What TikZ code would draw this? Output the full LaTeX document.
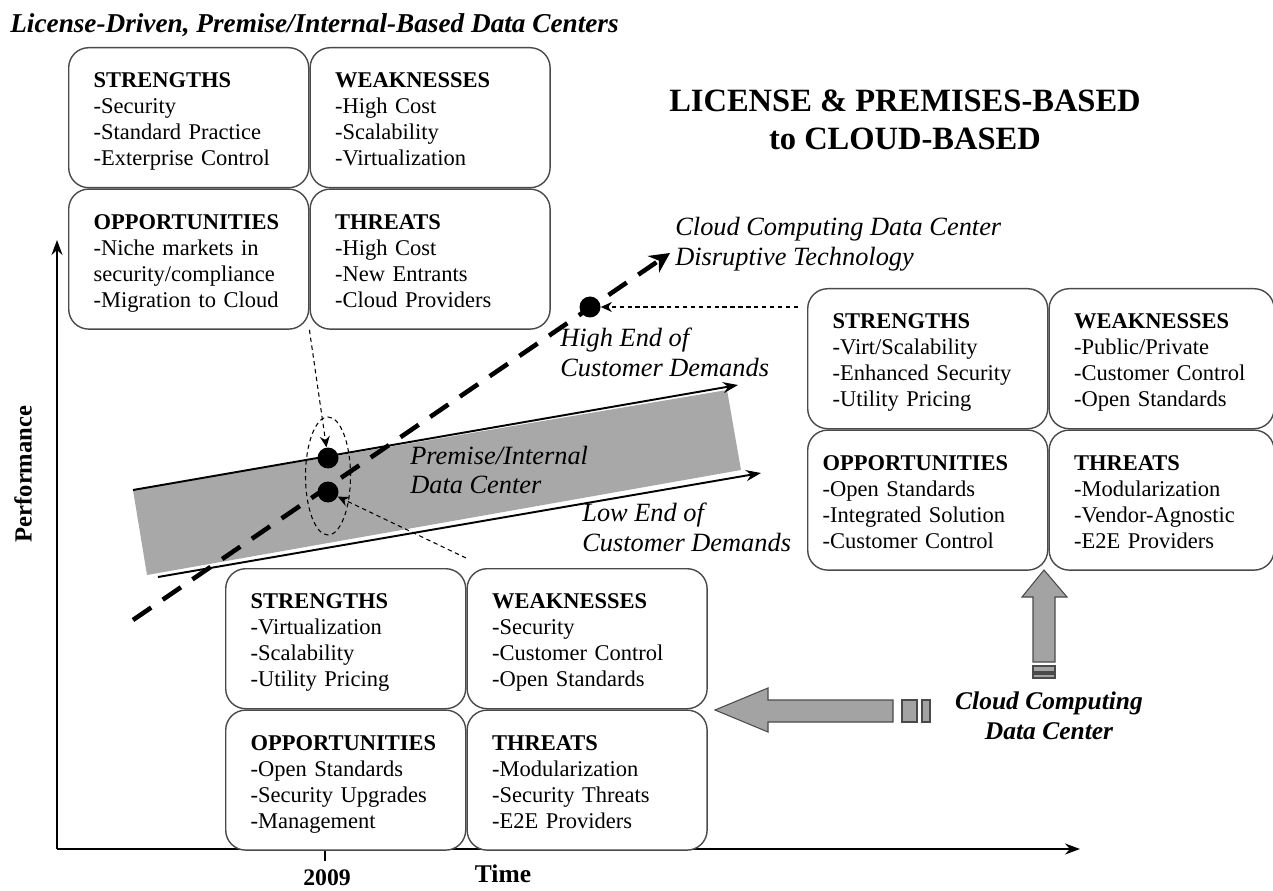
\documentclass[tikz,border=0pt]{standalone}
\usepackage{fontspec}
\setmainfont{Liberation Serif}
\usetikzlibrary{arrows.meta,positioning,shapes.geometric}
\definecolor{BandGray}{HTML}{A8A8A8}
\definecolor{BlockGray}{HTML}{A3A3A3}
\definecolor{Edge}{HTML}{4A4A4A}

\begin{document}
\begin{tikzpicture}[
  node distance=0mm,
  swot/.style={draw=Edge,fill=white,line width=0.8pt,rounded corners=4mm,minimum height=2.8cm,text width=3.8cm,inner xsep=5mm,align=left,font=\fontsize{12.8}{14.8}\selectfont,execute at begin node={\rule{0pt}{15pt}},execute at end node={\strut}},
  lbl/.style={anchor=west,inner sep=0,align=left,font=\fontsize{15}{17}\selectfont\itshape},
  dot/.style={circle,fill=black,inner sep=0,minimum size=4.2mm},
  thinarrow/.style={dash pattern=on 2.5pt off 2pt,line width=0.6pt,-{Stealth[length=2.2mm,width=2mm]}},
  axis/.style={line width=0.9pt,-{Stealth[length=3mm,width=2.2mm]}},
  bandline/.style={line width=1.1pt,-{Stealth[length=3mm,width=2.2mm]}},
  block/.style={fill=BlockGray,draw=Edge,line width=0.6pt}
]
  \useasboundingbox (0,0) rectangle (25.46,17.8);

  \node[anchor=base west,inner sep=0,font=\fontsize{15.5}{17}\selectfont\bfseries\itshape] (mainTitle) at (0.2,17.14) {License-Driven, Premise/Internal-Based Data Centers};
  \node[align=center,font=\fontsize{18.5}{22}\selectfont\bfseries] (shiftTitle) at (18.1,15.4) {LICENSE \& PREMISES-BASED\\to CLOUD-BASED};

  \coordinate (origin) at (1.14,0.82);
  \coordinate (xEnd) at (21.6,0.82);
  \coordinate (yEnd) at (1.14,13.0);
  \draw[axis] (origin) -- (xEnd);
  \draw[axis] (origin) -- (yEnd);
  \draw[line width=0.8pt] (6.5,0.82) -- (6.5,0.58);
  \node[rotate=90,font=\fontsize{14}{17}\selectfont\bfseries] (perfLbl) at (0.46,8.32) {Performance};
  \node[font=\fontsize{13.5}{16}\selectfont\bfseries] (yearLbl) at (6.54,0.25) {2009};
  \node[font=\fontsize{14.5}{17}\selectfont\bfseries] (timeLbl) at (10.06,0.32) {Time};

  \coordinate (bandA) at (2.66,8.0);
  \coordinate (bandB) at (14.54,10.0);
  \coordinate (bandC) at (14.82,8.4);
  \coordinate (bandD) at (2.94,6.3);
  \fill[BandGray] (bandA) -- (bandB) -- (bandC) -- (bandD) -- cycle;
  \coordinate (highEnd) at (14.76,10.1);
  \coordinate (lowStart) at (3.16,6.26);
  \coordinate (lowEnd) at (15.22,8.34);
  \draw[bandline] (bandA) -- (highEnd);
  \draw[bandline] (lowStart) -- (lowEnd);

  \coordinate (disStart) at (2.66,5.4);
  \coordinate (disEnd) at (13.4,12.74);
  \draw[line width=2.6pt,dash pattern=on 4.4mm off 2.8mm,-{Stealth[length=4mm,width=4mm]}] (disStart) -- (disEnd);

  \node[draw,dash pattern=on 2.5pt off 2pt,line width=0.6pt,ellipse,minimum width=0.9cm,minimum height=2.36cm] (ring) at (6.56,8.28) {};
  \node[dot] (hiDot) at (6.56,8.64) {};
  \node[dot] (loDot) at (6.56,7.96) {};
  \node[dot] (cloudDot) at (11.8,11.66) {};

  \node[lbl] (cloudLbl) at (13.5,12.92) {Cloud Computing Data Center\\Disruptive Technology};
  \node[lbl] (highLbl) at (11.2,10.76) {High End of\\Customer Demands};
  \node[lbl] (premLbl) at (8.2,8.4) {Premise/Internal\\Data Center};
  \node[lbl] (lowLbl) at (11.64,7.26) {Low End of\\Customer Demands};

  \node[swot,anchor=north west] (tlS) at (1.36,16.86) {\textbf{STRENGTHS}\\-Security\\-Standard Practice\\-Exterprise Control};
  \node[swot,right=of tlS] (tlW) {\textbf{WEAKNESSES}\\-High Cost\\-Scalability\\-Virtualization};
  \node[swot,below=of tlS] (tlO) {\textbf{OPPORTUNITIES}\\-Niche markets in\\security/compliance\\-Migration to Cloud};
  \node[swot,below=of tlW] (tlT) {\textbf{THREATS}\\-High Cost\\-New Entrants\\-Cloud Providers};

  \node[swot,anchor=north west] (rS) at (16.14,12.04) {\textbf{STRENGTHS}\\-Virt/Scalability\\-Enhanced Security\\-Utility Pricing};
  \node[swot,text width=3.5cm,right=of rS] (rW) {\textbf{WEAKNESSES}\\-Public/Private\\-Customer Control\\-Open Standards};
  \node[swot,text width=4.2cm,inner xsep=3mm,below=of rS] (rO) {\textbf{OPPORTUNITIES}\\-Open Standards\\-Integrated Solution\\-Customer Control};
  \node[swot,text width=3.5cm,below=of rW] (rT) {\textbf{THREATS}\\-Modularization\\-Vendor-Agnostic\\-E2E Providers};

  \node[swot,anchor=north west] (bS) at (4.5,6.44) {\textbf{STRENGTHS}\\-Virtualization\\-Scalability\\-Utility Pricing};
  \node[swot,right=of bS] (bW) {\textbf{WEAKNESSES}\\-Security\\-Customer Control\\-Open Standards};
  \node[swot,below=of bS] (bO) {\textbf{OPPORTUNITIES}\\-Open Standards\\-Security Upgrades\\-Management};
  \node[swot,below=of bW] (bT) {\textbf{THREATS}\\-Modularization\\-Security Threats\\-E2E Providers};

  \coordinate (bandPtr) at (9.32,6.64);
  \coordinate (cloudPtr) at (15.96,11.66);
  \draw[thinarrow] (tlO.south east) -- (hiDot);
  \draw[thinarrow] (bandPtr) -- (loDot);
  \draw[thinarrow] (cloudPtr) -- (cloudDot);

  \filldraw[block] (14.3,3.6) -- (15.36,4.04) -- (15.36,3.8) -- (17.86,3.8) -- (17.86,3.36) -- (15.36,3.36) -- (15.36,3.16) -- cycle;
  \filldraw[block] (18.04,3.36) rectangle (18.34,3.8);
  \filldraw[block] (18.44,3.36) rectangle (18.6,3.8);
  \filldraw[block] (20.88,6.4) -- (21.34,5.86) -- (21.1,5.86) -- (21.1,4.56) -- (20.66,4.56) -- (20.66,5.86) -- (20.44,5.86) -- cycle;
  \filldraw[block] (20.66,4.48) rectangle (21.1,4.36);
  \filldraw[block] (20.66,4.32) rectangle (21.1,4.24);
  \node[align=center,font=\fontsize{14.5}{17}\selectfont\bfseries\itshape] (cloudDC) at (20.98,3.48) {Cloud Computing\\Data Center};
\end{tikzpicture}
\end{document}
